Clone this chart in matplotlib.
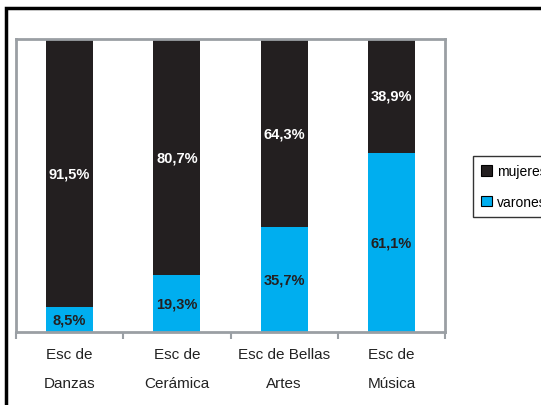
import matplotlib.pyplot as plt
from matplotlib.patches import Rectangle

plt.rcParams["font.family"] = ["Liberation Sans", "DejaVu Sans"]

categories = ["Esc de\nDanzas", "Esc de\nCerámica", "Esc de Bellas\nArtes", "Esc de\nMúsica"]
varones = [8.5, 19.3, 35.7, 61.1]
mujeres = [91.5, 80.7, 64.3, 38.9]

BLUE = "#00aeef"
DARK = "#231f20"
GRAY = "#9a9fa4"

W, H = 541, 406
fig = plt.figure(figsize=(W / 100, H / 100), dpi=100)
ax = fig.add_axes([16 / W, 1 - 333 / H, (445 - 16) / W, (333 - 40) / H])

x = range(len(categories))
ax.bar(x, varones, width=0.44, color=BLUE, label="varones")
ax.bar(x, mujeres, width=0.44, bottom=varones, color=DARK, label="mujeres")

for i in x:
    ax.text(i, varones[i] / 2, f"{varones[i]:.1f}%".replace(".", ","),
            ha="center", va="center", fontsize=10.5, fontweight="bold", color=DARK)
    ax.text(i, varones[i] + mujeres[i] / 2, f"{mujeres[i]:.1f}%".replace(".", ","),
            ha="center", va="center", fontsize=10.5, fontweight="bold", color="white")

ax.set_xlim(-0.5, 3.5)
ax.set_ylim(0, 100)
ax.set_yticks([])
ax.set_xticks([-0.5, 0.5, 1.5, 2.5, 3.5])
ax.set_xticklabels([])
ax.set_xticks(list(x), minor=True)
ax.set_xticklabels(categories, minor=True, fontsize=11, linespacing=2.3, color="#222222")
ax.tick_params(axis="x", which="major", length=5, color=GRAY, width=1.5)
ax.tick_params(axis="x", which="minor", length=0, pad=11)
for sp in ax.spines.values():
    sp.set_color(GRAY)
    sp.set_linewidth(2)

# outer frame, running off the right and bottom edges
fig.patches.append(Rectangle((6 / W, -0.1), 1.2, 1 - 9 / H + 0.1, transform=fig.transFigure,
                             fill=False, edgecolor="black", linewidth=2.5))

handles, labels = ax.get_legend_handles_labels()
leg = fig.legend(handles[::-1], labels[::-1], loc="upper left",
                 bbox_to_anchor=(473 / W, 1 - 157 / H), fontsize=10,
                 frameon=True, fancybox=False, edgecolor="black",
                 handlelength=0.75, handleheight=0.75, labelspacing=1.2,
                 borderpad=0.6, handletextpad=0.35, borderaxespad=0)
leg.get_frame().set_linewidth(1)
for h in leg.legend_handles:
    h.set_edgecolor("black")
    h.set_linewidth(0.8)

fig.savefig("out.png", dpi=100)
